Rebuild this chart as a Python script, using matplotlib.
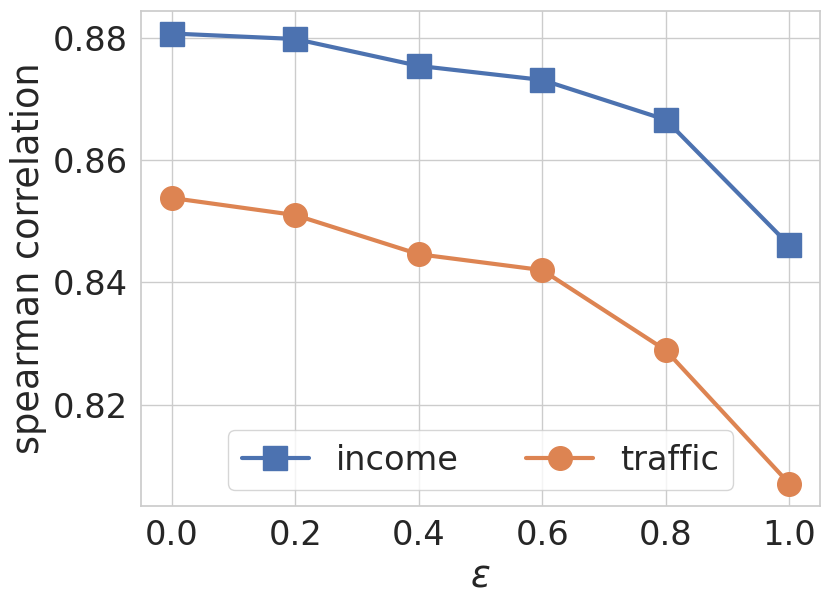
import matplotlib
matplotlib.use("Agg")
import matplotlib.pyplot as plt
import seaborn as sns

sns.set_theme(style="whitegrid", font_scale=2.2)
plt.rcParams['font.family'] = ['DejaVu Sans']

eps = [0.0, 0.2, 0.4, 0.6, 0.8, 1.0]
income = [0.8807, 0.8798, 0.8754, 0.8731, 0.8666, 0.8461]
traffic = [0.8538, 0.8510, 0.8446, 0.8420, 0.8289, 0.8071]
yticks = [0.82, 0.84, 0.86, 0.88]
xticks = [0.0, 0.2, 0.4, 0.6, 0.8, 1.0]

fig = plt.figure(figsize=(8.3, 6.05), dpi=100)
ax = fig.add_axes([141/830, 1-506/605, (820-141)/830, (506-11)/605])
pal = sns.color_palette()
ax.plot(eps, income, marker='s', color=pal[0], lw=3, markersize=17, label='income')
ax.plot(eps, traffic, marker='o', color=pal[1], lw=3, markersize=17, label='traffic')
ax.set_yticks(yticks)
ax.set_xticks(xticks)
ax.set_xticklabels([f"{v:.1f}" for v in xticks])
ax.set_yticklabels([f"{v:.2f}" for v in yticks])
ax.set_xlabel(r"$\epsilon$")
ax.set_ylabel("spearman correlation")
ax.legend(loc='lower center', ncol=2, bbox_to_anchor=(0.5, -0.002))
fig.savefig("out.png", dpi=100)
